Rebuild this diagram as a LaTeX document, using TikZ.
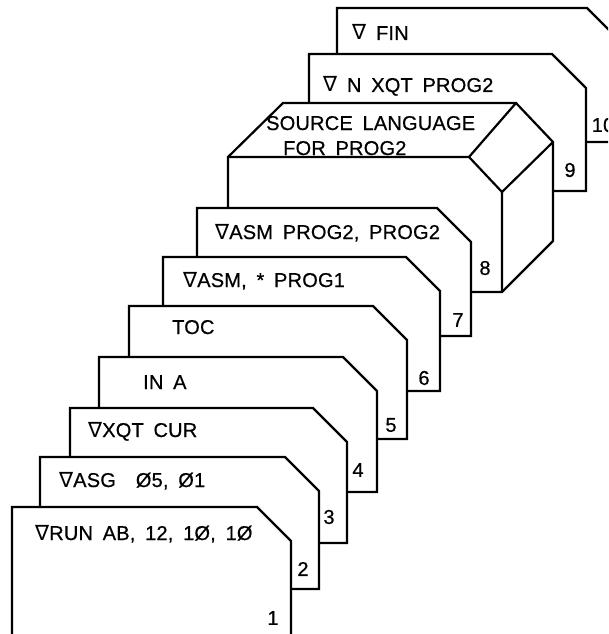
\documentclass[tikz,border=0pt]{standalone}
\usepackage{fontspec}
\setmainfont{Liberation Sans}[LetterSpace=1, WordSpace=1.7, FakeBold=0.6]
\newfontfamily\nabfont{DejaVu Sans}
\newcommand{\nab}{{\nabfont\fontsize{21}{21}\selectfont ∇}}

\tikzset{
  card/.style={draw, fill=white, line width=2.2pt, line join=miter},
  edge/.style={draw, line width=2.2pt},
  cardtxt/.style={anchor=base west, inner sep=0pt, font=\fontsize{20}{20}\selectfont},
  cardnum/.style={inner sep=0pt, font=\fontsize{20}{20}\selectfont}
}

\begin{document}
\begin{tikzpicture}[x=1pt, y=-1pt]
\clip (0,0) rectangle (608,634);
\fill[white] (0,0) rectangle (608,634);

% cards behind the source deck
\foreach \l/\t/\r/\b in {337/8/621/142, 309/54/586/191} {
    \draw[card] (\l,\t) -- (\r-34,\t) -- (\r,\t+34) -- (\r,\b) -- (\l,\b) -- cycle;
}

% source deck
\draw[card] (228,157) -- (283,103) -- (516,103) -- (553,142) -- (553,241) -- (502,292) -- (228,292) -- cycle;
\draw[edge] (228,157) -- (469,157) -- (502,192) -- (502,292);
\draw[edge] (469,157) -- (516,103);
\draw[edge] (502,192) -- (553,142);

% cards in front of the deck
\foreach \l/\t/\r/\b in {197/208/471/336, 163/257/440/391, 129/306/407/439,
                         99/357/377/492, 70/408/347/543, 40/457/319/589, 12/507/291/660} {
    \draw[card] (\l,\t) -- (\r-34,\t) -- (\r,\t+34) -- (\r,\b) -- (\l,\b) -- cycle;
}

% card texts
\node[cardtxt] (fin)  at (352,40)  {\nab\ FIN};
\node[cardtxt] (nxqt) at (323,92)  {\nab\ N XQT PROG2};
\node[cardtxt] (src)  at (266,130) {SOURCE LANGUAGE};
\node[cardtxt] (for)  at (283,155) {FOR PROG2};
\node[cardtxt] (asm2) at (215,239) {\nab ASM PROG2, PROG2};
\node[cardtxt] (asm1) at (183,287) {\nab ASM, * PROG1};
\node[cardtxt] (toc)  at (172,334) {TOC};
\node[cardtxt] (ina)  at (143,389) {IN A};
\node[cardtxt] (xqt)  at (88,437)  {\nab XQT CUR};
\node[cardtxt] (asg)  at (59,487)  {\nab ASG\quad Ø5, Ø1};
\node[cardtxt] (run)  at (35,540)  {\nab RUN AB, 12, 1Ø, 1Ø};

% card numbers
\node[cardnum] (n1)  at (273,618) {1};
\node[cardnum] (n2)  at (303,569) {2};
\node[cardnum] (n3)  at (329,517) {3};
\node[cardnum] (n4)  at (358,470) {4};
\node[cardnum] (n5)  at (391,425) {5};
\node[cardnum] (n6)  at (424,378) {6};
\node[cardnum] (n7)  at (458,320) {7};
\node[cardnum] (n8)  at (485,268) {8};
\node[cardnum] (n9)  at (570,170) {9};
\node[cardnum] (n10) at (603,125) {10};

\end{tikzpicture}
\end{document}
